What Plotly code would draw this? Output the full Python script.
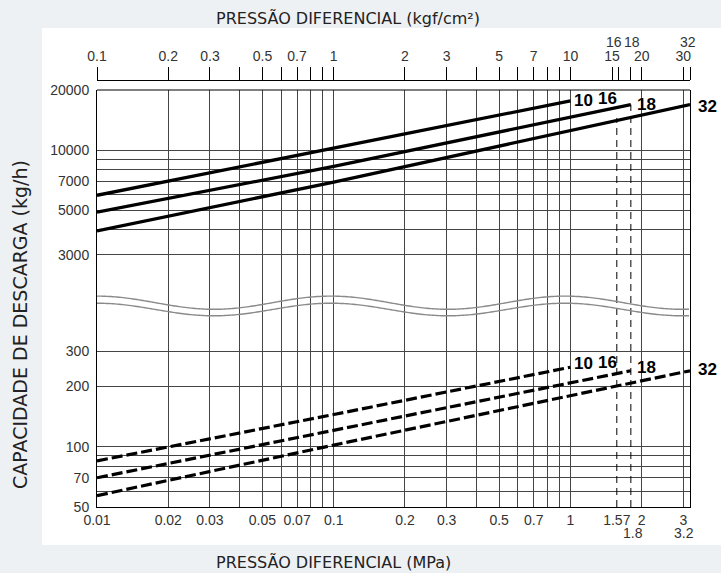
import math
import numpy as np
import plotly.graph_objects as go

# ---------------- data ----------------
# solid lines (upper scale, kg/h) -- x in MPa
solid_x_10 = [0.01, 0.1, 1.0]
solid_y_10 = [5950, 10200, 17650]
solid_x_18 = [0.01, 0.1, 1.8]
solid_y_18 = [4900, 8300, 16900]
solid_x_32 = [0.01, 0.1, 3.2]
solid_y_32 = [3950, 6930, 16900]

# dashed lines (lower scale, kg/h)
dash_x_10 = [0.01, 0.1, 1.0]
dash_y_10 = [85, 145, 250]
dash_x_18 = [0.01, 0.1, 1.8]
dash_y_18 = [70, 121, 240]
dash_x_32 = [0.01, 0.1, 3.2]
dash_y_32 = [57, 102, 240]

# bottom axis (MPa)
mpa_grid = [0.02, 0.03, 0.04, 0.05, 0.06, 0.07, 0.08, 0.09,
            0.1, 0.2, 0.3, 0.4, 0.5, 0.6, 0.7, 0.8, 0.9, 1, 2, 3]
mpa_ticks = [0.01, 0.02, 0.03, 0.05, 0.07, 0.1, 0.2, 0.3, 0.5, 0.7, 1, 1.57, 2, 3]
mpa_ticktext = ["0.01", "0.02", "0.03", "0.05", "0.07", "0.1", "0.2", "0.3",
                "0.5", "0.7", "1", "1.57", "2", "3"]
mpa_second_row = [1.8, 3.2]
mpa_second_text = ["1.8", "3.2"]
rated_mpa = [1.57, 1.8]
rated_top_kgh = [14500, 16900]

# top axis (kgf/cm2)
kgf_ticks = [0.1, 0.2, 0.3, 0.4, 0.5, 0.6, 0.7, 0.8, 0.9, 1, 2, 3, 4, 5, 6, 7, 8, 9,
             10, 15, 16, 18, 20, 30, 32]
kgf_ticktext = ["0.1", "0.2", "0.3", "", "0.5", "", "0.7", "", "", "1", "2", "3", "",
                "5", "", "7", "", "", "10", "15", "", "", "20", "30", ""]
kgf_upper_row = [16, 18, 32]

# y axes
upper_y_ticks = [3000, 4000, 5000, 6000, 7000, 8000, 9000, 10000, 20000]
upper_y_text = ["3000", "", "5000", "", "7000", "", "", "10000", "20000"]
lower_y_ticks = [50, 60, 70, 80, 90, 100, 200, 300]
lower_y_text = ["50", "", "70", "", "", "100", "200", "300"]

# ---------------- layout geometry (page pixels) ----------------
W, H = 721, 573
X_LEFT, X_RIGHT = 97, 690       # px of 0.01 and 3.2 MPa
Y_AXTOP = 80                    # px of kgf axis line
PLOT_TOP = 90                   # px of 20000 line
BREAK = 303                     # px of axis break
PLOT_BOT = 507                  # px of 50 line
DPD = 200.0                     # px per decade

L = X_LEFT
R = W - X_RIGHT
T = Y_AXTOP
B = H - PLOT_BOT
PW = W - L - R
PH = H - T - B


def fy(py):
    return (PLOT_BOT - py) / PH


def fx(px):
    return (px - X_LEFT) / PW


up_dom = [fy(BREAK), fy(PLOT_TOP)]
lo_dom = [0, fy(BREAK)]
up_hi = math.log10(20000)
up_range = [up_hi - (BREAK - PLOT_TOP) / DPD, up_hi]
lo_lo = math.log10(50)
lo_range = [lo_lo, lo_lo + (PLOT_BOT - BREAK) / DPD]

tick_font = dict(family="Liberation Sans, Arial, sans-serif", size=14, color="#333")
title_font = dict(family="DejaVu Sans, Verdana, sans-serif", size=16, color="#222")
label_font = dict(family="Liberation Sans, Arial, sans-serif", size=17, color="#000")
GRID = "#444"

fig = go.Figure()

solid = [(solid_x_10, solid_y_10), (solid_x_18, solid_y_18), (solid_x_32, solid_y_32)]
dashed = [(dash_x_10, dash_y_10), (dash_x_18, dash_y_18), (dash_x_32, dash_y_32)]
for xs, ys in solid:
    fig.add_trace(go.Scatter(x=xs, y=ys, mode="lines", xaxis="x", yaxis="y",
                             line=dict(color="#000", width=3.3),
                             showlegend=False, hoverinfo="skip"))
for xs, ys in dashed:
    fig.add_trace(go.Scatter(x=xs, y=ys, mode="lines", xaxis="x", yaxis="y2",
                             line=dict(color="#000", width=3.2, dash="11px,4px"),
                             showlegend=False, hoverinfo="skip"))
# invisible trace so the kgf/cm2 axis is laid out
fig.add_trace(go.Scatter(x=[kgf_ticks[0], kgf_ticks[-1]], y=[20000, 20000], mode="lines",
                         xaxis="x2", yaxis="y", line=dict(width=0), opacity=0,
                         showlegend=False, hoverinfo="skip"))

shapes = []
# white panel
shapes.append(dict(type="rect", xref="paper", yref="paper", x0=fx(42), x1=fx(760),
                   y0=fy(545), y1=fy(28), fillcolor="white", line=dict(width=0),
                   layer="below"))
# top border of plot
shapes.append(dict(type="line", xref="x domain", yref="y domain", x0=0, x1=1, y0=1, y1=1,
                   line=dict(color="#000", width=1)))
# dashed rating lines
for r, top in zip(rated_mpa, rated_top_kgh):
    shapes.append(dict(type="line", xref="x", yref="y2 domain", x0=r, x1=r, y0=0, y1=1,
                       line=dict(color="#000", width=1, dash="7px,5px")))
    shapes.append(dict(type="line", xref="x", yref="y", x0=r, x1=r,
                       y0=10 ** up_range[0], y1=top,
                       line=dict(color="#000", width=1, dash="7px,5px")))
# wavy break lines
wx = np.arange(X_LEFT, X_RIGHT + 0.1, 2.0)
period = 234.0
for centre, amp in [(302.7, 6.6), (309.5, 6.3)]:
    wy = centre - amp * np.cos(2 * np.pi * (wx - X_LEFT) / period)
    path = "M " + " L ".join(f"{fx(a):.5f},{fy(b):.5f}" for a, b in zip(wx, wy))
    shapes.append(dict(type="path", xref="paper", yref="paper", path=path,
                       line=dict(color="#8a8a8a", width=1.4)))

annotations = []
annotations.append(dict(text="PRESSÃO DIFERENCIAL (kgf/cm²)", xref="paper", yref="paper",
                        x=fx(214), y=fy(18), xanchor="left", yanchor="middle",
                        showarrow=False, font=title_font))
annotations.append(dict(text="PRESSÃO DIFERENCIAL (MPa)", xref="paper", yref="paper",
                        x=fx(214), y=fy(562), xanchor="left", yanchor="middle",
                        showarrow=False, font=title_font))
annotations.append(dict(text="CAPACIDADE DE DESCARGA (kg/h)", xref="paper", yref="paper",
                        x=fx(20), y=fy(325), xanchor="center", yanchor="middle",
                        textangle=-90, showarrow=False,
                        font=dict(family="DejaVu Sans, Verdana, sans-serif", size=19,
                                  color="#222")))
for v, dx in zip(kgf_upper_row, [-5, 1, -2]):
    annotations.append(dict(text=str(v), xref="x2", yref="paper", x=math.log10(v),
                            y=fy(42), xanchor="center", yanchor="middle", xshift=dx,
                            showarrow=False, font=tick_font))
for v, t, dx in zip(mpa_second_row, mpa_second_text, [2, -6]):
    annotations.append(dict(text=t, xref="x", yref="paper", x=math.log10(v), y=fy(533),
                            xanchor="center", yanchor="middle", xshift=dx,
                            showarrow=False, font=tick_font))
# series labels
lbl = [("10", solid_x_10[-1], solid_y_10[-1], 2, 0),
       ("16", solid_x_10[-1], solid_y_10[-1], 26, 2),
       ("18", solid_x_18[-1], solid_y_18[-1], 4, 0),
       ("32", solid_x_32[-1], solid_y_32[-1], 6, -2)]
for t, x, y, dx, dy in lbl:
    annotations.append(dict(text="<b>" + t + "</b>", xref="x", yref="y", x=math.log10(x),
                            y=math.log10(y), xanchor="left", yanchor="middle", xshift=dx,
                            yshift=dy, showarrow=False, font=label_font))
lbl2 = [("10", dash_x_10[-1], dash_y_10[-1], 2, 4),
        ("16", dash_x_10[-1], dash_y_10[-1], 26, 5),
        ("18", dash_x_18[-1], dash_y_18[-1], 4, 3),
        ("32", dash_x_32[-1], dash_y_32[-1], 6, 1)]
for t, x, y, dx, dy in lbl2:
    annotations.append(dict(text="<b>" + t + "</b>", xref="x", yref="y2", x=math.log10(x),
                            y=math.log10(y), xanchor="left", yanchor="middle", xshift=dx,
                            yshift=dy, showarrow=False, font=label_font))

fig.update_layout(
    width=W, height=H,
    margin=dict(l=L, r=R, t=T, b=B, pad=0),
    paper_bgcolor="#eef1f4",
    plot_bgcolor="rgba(0,0,0,0)",
    showlegend=False,
    xaxis=dict(type="log", range=[math.log10(0.01), math.log10(3.2)], domain=[0, 1],
               anchor="y2", tickmode="array", tickvals=mpa_ticks, ticktext=mpa_ticktext,
               ticks="", showgrid=False, zeroline=False, showline=True,
               linecolor="#000", linewidth=1, tickfont=tick_font,
               minor=dict(tickmode="array", tickvals=mpa_grid, showgrid=True,
                          gridcolor=GRID, gridwidth=1, ticks="")),
    xaxis2=dict(type="log", range=[math.log10(0.1), math.log10(32)], overlaying="x",
                side="top", anchor="free", position=1, tickmode="array",
                tickvals=kgf_ticks, ticktext=kgf_ticktext, ticks="outside", ticklen=13,
                tickcolor="#000", tickwidth=1, showgrid=False, zeroline=False,
                showline=True, linecolor="#000", linewidth=1, tickfont=tick_font),
    yaxis=dict(type="log", domain=up_dom, range=up_range, anchor="x", tickmode="array",
               tickvals=upper_y_ticks, ticktext=upper_y_text, ticks="", showgrid=True,
               gridcolor=GRID, gridwidth=1, zeroline=False, showline=True, mirror=True,
               linecolor="#000", linewidth=1, tickfont=tick_font, ticklabelstandoff=4),
    yaxis2=dict(type="log", domain=lo_dom, range=lo_range, anchor="x", tickmode="array",
                tickvals=lower_y_ticks, ticktext=lower_y_text, ticks="", showgrid=True,
                gridcolor=GRID, gridwidth=1, zeroline=False, showline=True, mirror=True,
                linecolor="#000", linewidth=1, tickfont=tick_font, ticklabelstandoff=4),
    shapes=shapes,
    annotations=annotations,
)

fig.write_html(
    "out.html",
    config={"displayModeBar": False},
    post_script="document.body.style.margin='0';"
                "document.documentElement.style.overflow='hidden';",
)
